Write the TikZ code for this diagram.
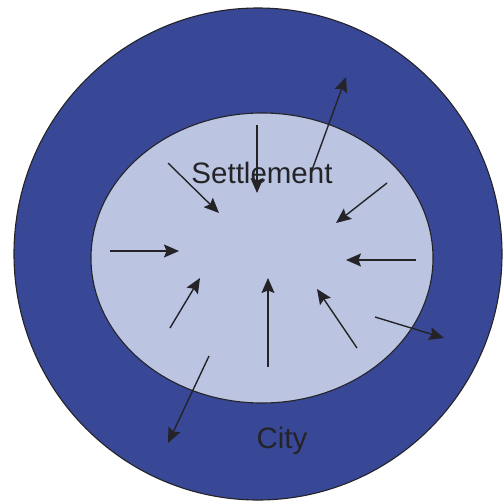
\documentclass[tikz,border=0pt]{standalone}
\usepackage{fontspec}
\setmainfont{Liberation Sans}
\usepackage{xcolor}
\usepackage{tikz}
\usetikzlibrary{arrows.meta,positioning,calc}

\definecolor{cityblue}{RGB}{56,71,150}
\definecolor{settleblue}{RGB}{187,197,226}
\definecolor{arrowgrey}{RGB}{36,36,40}

\tikzset{
  flow/.style={draw=arrowgrey, line width=1.4pt, -{Stealth[length=15pt,width=13pt,inset=2.5pt]}},
  zone/.style={draw=arrowgrey, line width=1.1pt},
  zonename/.style={inner sep=0pt, outer sep=0pt, anchor=base, text=arrowgrey, font=\fontsize{29.5}{34}\selectfont}
}

\begin{document}
\begin{tikzpicture}[x=1pt,y=-1pt]
  \useasboundingbox (0,0) rectangle (503,501);
  % city and settlement
  \draw[zone, fill=cityblue] (258,254) ellipse [x radius=244, y radius=246];
  \draw[zone, fill=settleblue] (262,258) ellipse [x radius=171, y radius=145];
  \node[zonename] (settlement) at (262,183) {Settlement};
  \node[zonename] (city) at (282,448) {City};
  % arrow ends
  \coordinate (topA) at (257,125);   \coordinate (topB) at (257,193);
  \coordinate (nwA) at (168,163);    \coordinate (nwB) at (219,213);
  \coordinate (neA) at (387,183);    \coordinate (neB) at (336,223);
  \coordinate (wA) at (110,251);     \coordinate (wB) at (179,251);
  \coordinate (eA) at (416,260);     \coordinate (eB) at (346,260);
  \coordinate (swA) at (170,328);    \coordinate (swB) at (200,278);
  \coordinate (sA) at (268,367);     \coordinate (sB) at (268,278);
  \coordinate (seA) at (357,348);    \coordinate (seB) at (317,289);
  \coordinate (upA) at (312,170);    \coordinate (upB) at (346,77);
  \coordinate (outA) at (375,317);   \coordinate (outB) at (444,338);
  \coordinate (downA) at (209,356);  \coordinate (downB) at (168,443);
  % inward and outward moves
  \foreach \a in {top,nw,ne,w,e,sw,s,se,up,out,down}
    \draw[flow] (\a A) -- (\a B);
\end{tikzpicture}
\end{document}
